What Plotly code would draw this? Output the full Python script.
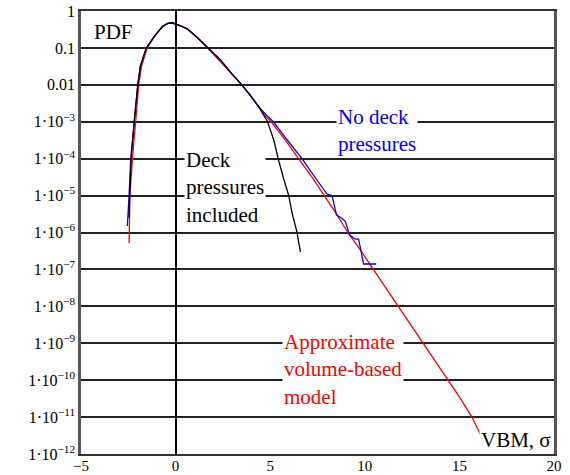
import plotly.graph_objects as go

# ---- data (x in sigma, PDF values) ----
red_x = [-2.46, -2.43, -2.41, -2.35, -2.29, -2.2, -2.11, -2.03, -1.95, -1.8, -1.62, -1.5,
         -1.25, -1.0, -0.7, -0.45, -0.2, 0.1, 0.4, 0.7, 1.2, 1.69, 2.3, 2.9, 3.5, 4.0, 4.4,
         4.75, 5.05, 5.8, 6.5, 7.2, 7.86, 8.5, 9.1, 9.8, 10.45, 11.1, 11.79, 12.45, 13.1,
         13.75, 14.42, 15.05, 15.66, 16.1, 16.4]
red_y = [5.1e-7, 3.2e-6, 1e-5, 3.2e-5, 1e-4, 3.2e-4, 1e-3, 3.2e-3, 1e-2, 3.2e-2, 6.3e-2, 0.1,
         0.16, 0.25, 0.37, 0.46, 0.48, 0.42, 0.37, 0.30, 0.18, 0.1, 0.045, 0.021, 0.01, 4.8e-3, 2.5e-3,
         1.4e-3, 1e-3, 3.2e-4, 1e-4, 3.2e-5, 1e-5, 3.2e-6, 1e-6, 3.2e-7, 1e-7, 3.2e-8, 1e-8, 3.2e-9, 1e-9,
         3.2e-10, 1e-10, 3.2e-11, 1e-11, 3.5e-12, 1.3e-12]

blue_x = [-2.55, -2.51, -2.46, -2.37, -2.2, -2.1, -2.0, -1.86, -1.55, -1.14, -0.7, -0.4, -0.18,
          0.1, 0.62, 1.2, 1.69, 2.37, 2.9, 3.5, 4.0, 4.38, 4.8, 5.17, 5.9, 6.68, 7.3, 8.0, 8.27,
          8.5, 8.8, 8.97, 9.2, 9.5, 9.67, 9.94, 10.6]
blue_y = [1.5e-6, 5e-6, 1e-5, 1e-4, 1e-3, 3.2e-3, 1e-2, 3.2e-2, 0.1, 0.2, 0.38, 0.46, 0.48,
          0.43, 0.33, 0.18, 0.1, 0.047, 0.022, 0.01, 4.8e-3, 2.6e-3, 1.5e-3, 1e-3, 3.2e-4, 1e-4, 3.5e-5, 1.1e-5, 1e-5,
          3e-6, 2.4e-6, 2e-6, 8.5e-7, 6.6e-7, 6.6e-7, 1.4e-7, 1.4e-7]

black_x = [-2.47, -2.42, -2.35, -2.19, -2.0, -1.86, -1.55, -1.14, -0.7, -0.4, -0.18, 0.1, 0.62,
           1.2, 1.69, 2.37, 2.9, 3.5, 4.0, 4.38, 4.66, 4.86, 5.19, 5.42, 5.7, 5.98, 6.16, 6.3,
           6.42, 6.5, 6.6]
black_y = [2.5e-6, 1e-5, 1e-4, 1e-3, 1e-2, 3.2e-2, 0.1, 0.2, 0.38, 0.46, 0.48, 0.43, 0.33,
           0.18, 0.1, 0.047, 0.022, 0.01, 4.8e-3, 2.6e-3, 1.5e-3, 1e-3, 3.2e-4, 1e-4, 3e-5, 1e-5, 3.3e-6, 1.8e-6,
           1e-6, 5.6e-7, 3e-7]

y_tickvals = [1, 0.1, 0.01, 1e-3, 1e-4, 1e-5, 1e-6, 1e-7, 1e-8, 1e-9, 1e-10, 1e-11, 1e-12]
y_ticktext = ["1", "0.1", "0.01"] + ["1·10<sup>−%d</sup>" % k for k in range(3, 13)]
x_tickvals = [-5, 0, 5, 10, 15, 20]
x_ticktext = ["−5", "0", "5", "10", "15", "20"]

FONT = "Liberation Serif, Times New Roman, serif"

fig = go.Figure()
fig.add_trace(go.Scatter(x=red_x, y=red_y, mode="lines", line=dict(color="#ff0000", width=1.3)))
fig.add_trace(go.Scatter(x=blue_x, y=blue_y, mode="lines", line=dict(color="#0000ff", width=1.3)))
fig.add_trace(go.Scatter(x=black_x, y=black_y, mode="lines", line=dict(color="#000000", width=1.3)))

fig.update_layout(
    width=570, height=475,
    margin=dict(l=81, r=16, t=11, b=21),
    paper_bgcolor="white", plot_bgcolor="white",
    showlegend=False,
    font=dict(family=FONT, size=16, color="black"),
    xaxis=dict(range=[-5, 20], tickvals=x_tickvals, ticktext=x_ticktext, showgrid=False,
               zeroline=True, zerolinecolor="black", zerolinewidth=1.5,
               showline=True, linecolor="#333", linewidth=2, mirror=True,
               ticks="", ticklabelstandoff=-3,
               tickfont=dict(size=15, family=FONT), automargin=False),
    yaxis=dict(type="log", range=[-12, 0], tickvals=y_tickvals, ticktext=y_ticktext,
               showgrid=True, gridcolor="#222", gridwidth=1.5, zeroline=False,
               showline=True, linecolor="#555", linewidth=2.5, mirror=True,
               ticks="", tickfont=dict(size=16, family=FONT), automargin=False),
)

ann_font = 21
fig.add_annotation(x=-4.4, y=-0.57, xref="x", yref="y", text="PDF", showarrow=False,
                   xanchor="left", yanchor="middle", font=dict(size=ann_font, color="black", family=FONT))
fig.add_annotation(x=0.45, y=-4.77, xref="x", yref="y", text="Deck<br>pressures<br>included",
                   showarrow=False, xanchor="left", yanchor="middle", align="left",
                   bgcolor="white", font=dict(size=ann_font, color="black", family=FONT))
fig.add_annotation(x=8.5, y=-3.25, xref="x", yref="y", text="No deck<br>pressures",
                   showarrow=False, xanchor="left", yanchor="middle", align="left",
                   bgcolor="white", font=dict(size=ann_font, color="#0000ff", family=FONT))
fig.add_annotation(x=5.6, y=-9.7, xref="x", yref="y", text="Approximate<br>volume-based<br>model",
                   showarrow=False, xanchor="left", yanchor="middle", align="left",
                   bgcolor="white", font=dict(size=ann_font, color="#ff0000", family=FONT))
fig.add_annotation(x=19.95, y=-11.63, xref="x", yref="y", text="VBM, σ",
                   showarrow=False, xanchor="right", yanchor="middle", align="left",
                   bgcolor="white", font=dict(size=ann_font, color="black", family=FONT))

# remove the default 8px page margin so the figure fills the 570x475 window
fig.write_html("out.html", config={"displayModeBar": False},
               post_script="document.body.style.margin='0';document.body.style.overflow='hidden';")
